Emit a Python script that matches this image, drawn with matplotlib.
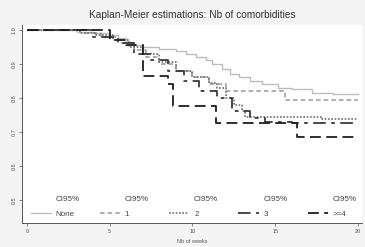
import matplotlib.pyplot as plt
from matplotlib.lines import Line2D

# Kaplan-Meier step curves
weeks_none = [0, 3, 4, 5, 5.5, 6, 6.5, 7, 8, 9, 9.6, 10.2, 10.8, 11.2, 11.8,
              12.3, 12.8, 13.5, 14.2, 15.2, 16, 17.2, 18.5, 20]
surv_none = [1.0, 0.995, 0.99, 0.985, 0.975, 0.965, 0.955, 0.948, 0.943, 0.937,
             0.93, 0.92, 0.91, 0.9, 0.885, 0.87, 0.86, 0.85, 0.84, 0.83, 0.825,
             0.815, 0.81, 0.81]

weeks_1 = [0, 3.5, 4.5, 5.5, 6.5, 7.2, 8, 9, 10, 11, 12, 15.6, 20]
surv_1 = [1.0, 0.99, 0.98, 0.96, 0.94, 0.92, 0.9, 0.88, 0.86, 0.84, 0.82, 0.795, 0.795]

weeks_2 = [0, 3.2, 4.2, 5.2, 6.2, 7, 8, 9, 10, 11, 11.5, 12, 12.5, 13, 13.2, 17.8, 20]
surv_2 = [1.0, 0.99, 0.985, 0.97, 0.95, 0.93, 0.905, 0.88, 0.86, 0.845, 0.83,
          0.8, 0.78, 0.76, 0.745, 0.738, 0.738]

weeks_3 = [0, 4, 5.5, 6.5, 7.5, 8.5, 9.5, 10.4, 11.5, 12.4, 13.5, 14.4, 16, 20]
surv_3 = [1.0, 0.98, 0.96, 0.93, 0.91, 0.88, 0.85, 0.82, 0.8, 0.76, 0.74, 0.73,
          0.725, 0.725]

weeks_4 = [0, 5, 6, 7, 8.5, 8.8, 11.4, 16.3, 20]
surv_4 = [1.0, 0.97, 0.955, 0.865, 0.84, 0.775, 0.727, 0.685, 0.685]

labels = ["None", "1", "2", "3", ">=4"]
x_ticks = [0, 5, 10, 15, 20]
y_ticks = [0.5, 0.6, 0.7, 0.8, 0.9, 1.0]

series = [(weeks_none, surv_none), (weeks_1, surv_1), (weeks_2, surv_2),
          (weeks_3, surv_3), (weeks_4, surv_4)]
colors = ["#bdbdbd", "#9a9a9a", "#6e6e6e", "#3a3a3a", "#1e1e1e"]
styles = ["-", (0, (3, 2)), (0, (1, 1)), (0, (7, 3, 2, 3)), (0, (6, 3))]
widths = [1.0, 1.1, 1.2, 1.3, 1.3]

plt.rcParams['font.family'] = ['Liberation Sans', 'DejaVu Sans']

fig = plt.figure(figsize=(3.65, 2.47), dpi=100, facecolor="#f4f4f4")
ax = fig.add_axes([0.06, 0.097, 0.932, 0.803])
ax.set_facecolor("white")

handles = []
for (w, s), c, ls, lw, lab in zip(series, colors, styles, widths, labels):
    ax.plot(w, s, drawstyle="steps-post", color=c, linestyle=ls, linewidth=lw)
    handles.append(Line2D([], [], color=c, linestyle=ls, linewidth=lw))

ax.set_xlim(-0.3, 20.25)
ax.set_ylim(0.432, 1.015)
ax.set_xticks(x_ticks)
ax.set_yticks(y_ticks)
ax.set_yticklabels([f"{v:.1f}" for v in y_ticks], rotation=90, va="center")
ax.tick_params(labelsize=4, length=2, width=0.5, pad=2, colors="#555555")
for side in ["top", "right"]:
    ax.spines[side].set_visible(False)
for side in ["left", "bottom"]:
    ax.spines[side].set_color("#555555")
    ax.spines[side].set_linewidth(0.7)

ax.set_title("Kaplan-Meier estimations: Nb of comorbidities", fontsize=7.3,
             color="#333333", pad=5)
ax.set_xlabel("Nb of weeks", fontsize=4, color="#555555", labelpad=4)

# legend: "CI95%" row above each line entry
blank = Line2D([], [], linestyle="none")
leg_handles, leg_labels = [], []
for h, lab in zip(handles, labels):
    leg_handles += [blank, h]
    leg_labels += ["CI95%", lab]
ax.legend(leg_handles, leg_labels, ncol=5, loc="lower center",
          bbox_to_anchor=(0.505, -0.01), frameon=False, fontsize=5.8,
          handlelength=2.5, columnspacing=2.5, labelspacing=0.85,
          handletextpad=0.6, labelcolor="#444444")

fig.savefig("out.png", dpi=100, facecolor=fig.get_facecolor())
